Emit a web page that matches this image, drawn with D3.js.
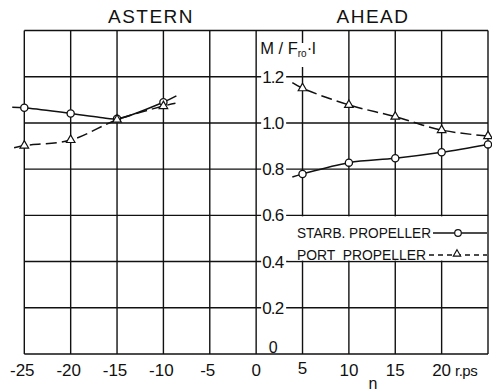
<!DOCTYPE html>
<html><head><meta charset="utf-8">
<script src="https://cdn.jsdelivr.net/npm/d3@7"></script>
<style>body{margin:0;background:#fff}svg{display:block}text{font-family:"Liberation Sans",Arial,sans-serif;fill:#111}</style>
</head><body><svg id="c" width="492" height="392"></svg>
<script>
// ---- data ----
const xTicks = [-25, -20, -15, -10, -5, 0, 5, 10, 15, 20];
const xTickLabels = ["-25", "-20", "-15", "-10", "-5", "0", "5", "10", "15", "20"];
const yTicks = [0, 0.2, 0.4, 0.6, 0.8, 1.0, 1.2, 1.4];
const yTickLabels = ["0", "0.2", "0.4", "0.6", "0.8", "1.0", "1.2", ""];

const starbAsternN = [-25, -20, -15, -10];
const starbAsternV = [1.066, 1.041, 1.018, 1.09];
const starbAsternLineN = [-26.3, -25, -20, -16.8, -15, -10, -8.6];
const starbAsternLineV = [1.068, 1.066, 1.041, 1.024, 1.018, 1.09, 1.117];

const portAsternN = [-25, -20, -15, -10];
const portAsternV = [0.902, 0.926, 1.014, 1.073];
const portAsternLineN = [-26.1, -25, -20, -15, -10, -8.7];
const portAsternLineV = [0.893, 0.902, 0.926, 1.014, 1.073, 1.085];

const starbAheadN = [5, 10, 15, 20, 25];
const starbAheadV = [0.779, 0.828, 0.847, 0.873, 0.907];
const starbAheadLineN = [3.9, 5, 10, 15, 20, 25];
const starbAheadLineV = [0.766, 0.779, 0.828, 0.847, 0.873, 0.907];

const portAheadN = [5, 10, 15, 20, 25];
const portAheadV = [1.15, 1.078, 1.027, 0.969, 0.943];
const portAheadLineN = [3.9, 5, 10, 15, 20, 25];
const portAheadLineV = [1.174, 1.15, 1.078, 1.027, 0.969, 0.943];

const legendLabels = ["STARB. PROPELLER", "PORT  PROPELLER"];

// ---- drawing ----
const svg = d3.select("#c");
const x = d3.scaleLinear().domain([-25, 25]).range([24.3, 488]);
const y = d3.scaleLinear().domain([0, 1.4]).range([354, 30.5]);
const ink = "#111";

// grid
const g = svg.append("g");
g.selectAll("line.v").data(xTicks.concat([25])).join("line")
  .attr("x1", d => x(d)).attr("x2", d => x(d))
  .attr("y1", y(1.4)).attr("y2", y(0))
  .attr("stroke", ink).attr("stroke-width", 1.4);
g.selectAll("line.h").data(yTicks).join("line")
  .attr("x1", x(-25)).attr("x2", x(25))
  .attr("y1", d => y(d)).attr("y2", d => y(d))
  .attr("stroke", ink).attr("stroke-width", 1.4);

// legend area blanking the grid between 0.6 and 0.4
svg.append("rect").attr("x", 288).attr("y", y(0.6) + 1)
  .attr("width", x(25) - 288 - 1).attr("height", y(0.4) - y(0.6) - 2).attr("fill", "#fff");

// y tick labels on the n=0 axis
yTicks.forEach((t, i) => {
  const lab = yTickLabels[i];
  if (!lab) return;
  if (t > 0) {
    svg.append("rect").attr("x", x(0) + 5).attr("y", y(t) - 8)
      .attr("width", 25).attr("height", 16).attr("fill", "#fff");
    svg.append("text").attr("x", x(0) + 6).attr("y", y(t)).attr("dy", "0.36em")
      .attr("font-size", 17).attr("letter-spacing", -0.8).text(lab);
  } else {
    svg.append("text").attr("x", x(0) + 17).attr("y", y(t) - 1)
      .attr("text-anchor", "middle").attr("font-size", 16).text(lab);
  }
});

// y axis title
svg.append("rect").attr("x", x(0) + 2).attr("y", 43).attr("width", 56).attr("height", 24).attr("fill", "#fff");
const yt = svg.append("text").attr("x", x(0) + 4).attr("y", 54).attr("font-size", 16.5);
yt.append("tspan").text("M / F");
yt.append("tspan").attr("font-size", 10).attr("dy", 3).text("ro");
yt.append("tspan").attr("dy", -3).text("·l");

// x tick labels
xTicks.forEach((t, i) => {
  svg.append("text").attr("x", x(t) - (t < 0 ? 2 : 0)).attr("y", t === 5 ? 374 : 376)
    .attr("text-anchor", "middle").attr("font-size", 17).text(xTickLabels[i]);
});
svg.append("text").attr("x", 455).attr("y", 376).attr("font-size", 15).attr("letter-spacing", -0.5).text("r.ps");
svg.append("text").attr("x", 373).attr("y", 389).attr("text-anchor", "middle").attr("font-size", 16).text("n");

// titles
svg.append("text").attr("x", 151).attr("y", 23).attr("text-anchor", "middle")
  .attr("font-size", 19).attr("letter-spacing", 1.5).text("ASTERN");
svg.append("text").attr("x", 373).attr("y", 23).attr("text-anchor", "middle")
  .attr("font-size", 19).attr("letter-spacing", 1.5).text("AHEAD");

// curves
const line = d3.line().x(d => x(d[0])).y(d => y(d[1])).curve(d3.curveCatmullRom.alpha(0.5));
const zip = (a, b) => a.map((v, i) => [v, b[i]]);
function curve(nArr, vArr, dashed) {
  svg.append("path").datum(zip(nArr, vArr)).attr("d", line)
    .attr("fill", "none").attr("stroke", ink).attr("stroke-width", 1.5)
    .attr("stroke-dasharray", dashed ? "11,5" : null);
}
curve(starbAsternLineN, starbAsternLineV, false);
curve(portAsternLineN, portAsternLineV, true);
curve(starbAheadLineN, starbAheadLineV, false);
curve(portAheadLineN, portAheadLineV, true);

const tri = d3.symbol().type(d3.symbolTriangle).size(32);
function circles(nArr, vArr) {
  svg.append("g").selectAll("circle").data(zip(nArr, vArr)).join("circle")
    .attr("cx", d => x(d[0])).attr("cy", d => y(d[1])).attr("r", 3.6)
    .attr("fill", "#fff").attr("stroke", ink).attr("stroke-width", 1.3);
}
function triangles(nArr, vArr) {
  svg.append("g").selectAll("path").data(zip(nArr, vArr)).join("path")
    .attr("d", tri).attr("transform", d => `translate(${x(d[0])},${y(d[1])})`)
    .attr("fill", "#fff").attr("stroke", ink).attr("stroke-width", 1.2);
}
circles(starbAsternN, starbAsternV);
triangles(portAsternN, portAsternV);
circles(starbAheadN, starbAheadV);
triangles(portAheadN, portAheadV);

// legend
const ly1 = 233, ly2 = 255;
svg.append("text").attr("x", 297).attr("y", ly1).attr("dy", "0.36em").attr("font-size", 14.5)
  .attr("textLength", 134).attr("lengthAdjust", "spacingAndGlyphs").text(legendLabels[0]);
svg.append("text").attr("x", 297).attr("y", ly2).attr("dy", "0.36em").attr("font-size", 14.5)
  .attr("textLength", 129).attr("lengthAdjust", "spacingAndGlyphs")
  .attr("xml:space", "preserve").style("white-space", "pre").text(legendLabels[1]);
svg.append("line").attr("x1", 433).attr("x2", 487).attr("y1", ly1).attr("y2", ly1)
  .attr("stroke", ink).attr("stroke-width", 1.4);
svg.append("circle").attr("cx", 458).attr("cy", ly1).attr("r", 3.3)
  .attr("fill", "#fff").attr("stroke", ink).attr("stroke-width", 1.2);
svg.append("line").attr("x1", 429).attr("x2", 487).attr("y1", ly2).attr("y2", ly2)
  .attr("stroke", ink).attr("stroke-width", 1.4).attr("stroke-dasharray", "5,4");
svg.append("path").attr("d", d3.symbol().type(d3.symbolTriangle).size(24))
  .attr("transform", `translate(457,${ly2 - 1})`)
  .attr("fill", "#fff").attr("stroke", ink).attr("stroke-width", 1.1);
</script></body></html>
